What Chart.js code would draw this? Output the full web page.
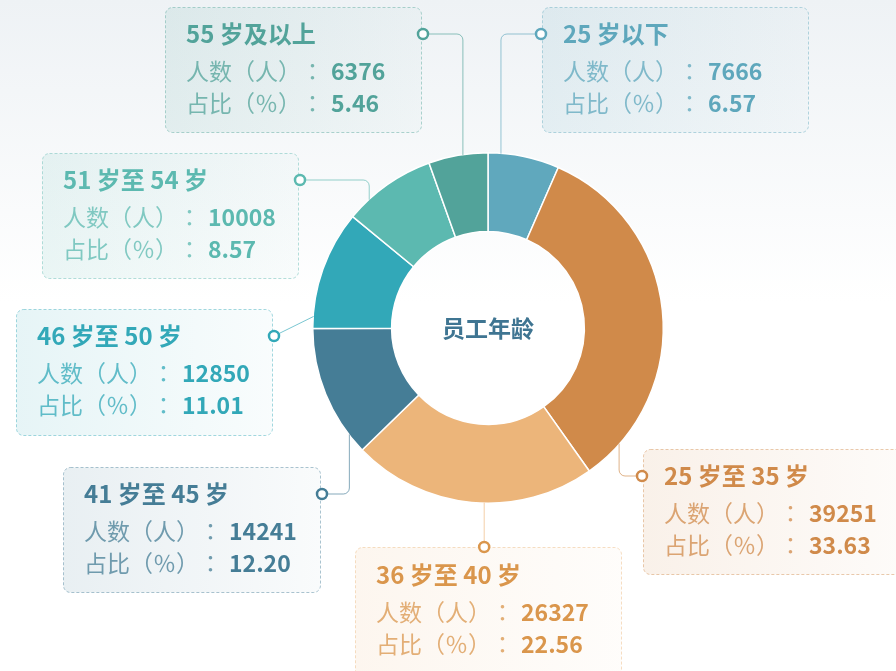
<!DOCTYPE html>
<html>
<head>
<meta charset="utf-8">
<script src="https://cdn.jsdelivr.net/npm/chart.js@4.4.1/dist/chart.umd.min.js"></script>
<style>
    html, body { margin: 0; padding: 0; background: #fff; }
    canvas { display: block; }
</style>
</head>
<body>
<canvas id="chart-umur" width="896" height="671"></canvas>
<script>
const ageGroups = ['25 岁以下', '25 岁至 35 岁', '36 岁至 40 岁', '41 岁至 45 岁', '46 岁至 50 岁', '51 岁至 54 岁', '55 岁及以上'];
const headcount = [7666, 39251, 26327, 14241, 12850, 10008, 6376];
const shares = ['6.57', '33.63', '22.56', '12.20', '11.01', '8.57', '5.46'];
const centerTitle = '员工年龄';
const countLabel = '人数（人）：';
const shareLabel = '占比（％）：';

const sliceColors = ['#60a8bd', '#d08a4a', '#ecb57a', '#457d96', '#32a8b8', '#5cb9b0', '#52a39a'];
const textColors  = ['#5ea7bc', '#d08a4a', '#da964c', '#457d96', '#32a8b8', '#5cb9b0', '#52a39a'];

// kotak label: posisi kotak, sisi titik, dan posisi ujung garis pada busur (t)
const labelBoxes = [
    { x: 542, y: 7,   w: 266, h: 125, side: 'left',  t: 0.18, line: 'elbow' },
    { x: 643, y: 449, w: 262, h: 125, side: 'left',  t: 0.89, line: 'elbow' },
    { x: 355, y: 547, w: 266, h: 130, side: 'top',   t: 0.45, line: 'down' },
    { x: 63,  y: 467, w: 257, h: 125, side: 'right', t: 0.15, line: 'elbow' },
    { x: 16,  y: 309, w: 256, h: 126, side: 'right', t: 0.10, line: 'straight' },
    { x: 42,  y: 153, w: 256, h: 125, side: 'right', t: 0.25, line: 'elbow' },
    { x: 165, y: 7,   w: 256, h: 125, side: 'right', t: 0.58, line: 'elbow' }
];

const FONT = '"Noto Sans CJK SC", "Noto Sans", sans-serif';
const LABEL_SIZE = 23;

function alpha(hex, a) {
    const n = parseInt(hex.slice(1), 16);
    return `rgba(${(n >> 16) & 255}, ${(n >> 8) & 255}, ${n & 255}, ${a})`;
}

function roundRect(ctx, x, y, w, h, r) {
    ctx.beginPath();
    ctx.moveTo(x + r, y);
    ctx.arcTo(x + w, y, x + w, y + h, r);
    ctx.arcTo(x + w, y + h, x, y + h, r);
    ctx.arcTo(x, y + h, x, y, r);
    ctx.arcTo(x, y, x + w, y, r);
    ctx.closePath();
}

const backgroundPlugin = {
    id: 'latar',
    beforeDraw(chart) {
        const ctx = chart.ctx;
        const g = ctx.createLinearGradient(0, 0, 0, chart.height);
        g.addColorStop(0, '#eef2f5');
        g.addColorStop(0.45, '#ffffff');
        g.addColorStop(1, '#ffffff');
        ctx.save();
        ctx.fillStyle = g;
        ctx.fillRect(0, 0, chart.width, chart.height);
        ctx.restore();
    }
};

const labelPlugin = {
    id: 'labelKotak',
    afterDraw(chart) {
        const ctx = chart.ctx;
        const arcs = chart.getDatasetMeta(0).data;

        // teks tengah
        const c = arcs[0];
        ctx.save();
        ctx.fillStyle = '#3f7592';
        ctx.font = 'bold 23px ' + FONT;
        ctx.textAlign = 'center';
        ctx.textBaseline = 'middle';
        ctx.fillText(centerTitle, c.x, c.y);
        ctx.restore();

        labelBoxes.forEach((box, i) => {
            const arc = arcs[i];
            const color = textColors[i];
            const a = arc.startAngle + box.t * (arc.endAngle - arc.startAngle);
            const r = arc.outerRadius - 0.5;
            const ax = arc.x + r * Math.cos(a);
            const ay = arc.y + r * Math.sin(a);

            let dx, dy;
            if (box.side === 'left') { dx = box.x - 1; dy = box.y + 27; }
            else if (box.side === 'right') { dx = box.x + box.w + 2; dy = box.y + 27; }
            else { dx = ax; dy = box.y; }

            ctx.save();
            // kotak
            const g = ctx.createLinearGradient(box.x, 0, box.x + box.w, 0);
            g.addColorStop(0, alpha(sliceColors[i], 0.12));
            g.addColorStop(1, alpha(sliceColors[i], 0.03));
            roundRect(ctx, box.x + 0.5, box.y + 0.5, box.w, box.h, 7);
            ctx.fillStyle = g;
            ctx.fill();
            ctx.setLineDash([3, 2]);
            ctx.lineWidth = 1;
            ctx.strokeStyle = alpha(sliceColors[i], 0.45);
            ctx.stroke();
            ctx.setLineDash([]);

            // garis penghubung
            ctx.beginPath();
            ctx.strokeStyle = alpha(sliceColors[i], 0.65);
            ctx.lineWidth = 1;
            ctx.moveTo(ax, ay);
            if (box.line === 'elbow') {
                ctx.arcTo(ax, dy, dx, dy, 6);
                ctx.lineTo(dx, dy);
            } else {
                ctx.lineTo(dx, dy);
            }
            ctx.stroke();

            // titik
            ctx.beginPath();
            ctx.arc(dx, dy, 5, 0, Math.PI * 2);
            ctx.fillStyle = '#fff';
            ctx.fill();
            ctx.lineWidth = 2.5;
            ctx.strokeStyle = color;
            ctx.stroke();

            // teks
            const tx = box.x + 21;
            const ty = box.y + (box.side === 'top' ? 1 : 0);
            ctx.textBaseline = 'middle';
            ctx.textAlign = 'left';
            ctx.fillStyle = color;
            ctx.font = 'bold 24px ' + FONT;
            ctx.fillText(ageGroups[i], tx, ty + 27);

            const rows = [[countLabel, String(headcount[i]), 64], [shareLabel, shares[i], 96]];
            rows.forEach(([label, value, off]) => {
                const head = label.slice(0, -1);
                const colon = label.slice(-1);
                ctx.font = LABEL_SIZE + 'px ' + FONT;
                ctx.fillStyle = alpha(color, 0.75);
                ctx.fillText(head, tx, ty + off);
                const w = ctx.measureText(head).width;
                // titik dua di tengah sel (gaya JP)
                ctx.font = LABEL_SIZE + 'px "Noto Sans CJK JP", sans-serif';
                ctx.fillText(colon, tx + w, ty + off);
                ctx.font = 'bold 23px ' + FONT;
                ctx.fillStyle = color;
                ctx.fillText(value, tx + w + LABEL_SIZE + 7, ty + off);
            });
            ctx.restore();
        });
    }
};

const ctx = document.getElementById('chart-umur').getContext('2d');
new Chart(ctx, {
    type: 'doughnut',
    data: {
        labels: ageGroups,
        datasets: [{
            data: headcount,
            backgroundColor: sliceColors,
            borderColor: '#ffffff',
            borderWidth: 1.5
        }]
    },
    options: {
        responsive: false,
        animation: false,
        cutout: '55%',
        layout: {
            padding: { left: 312, right: 232, top: 152, bottom: 167 }
        },
        plugins: {
            legend: { display: false },
            tooltip: { enabled: false }
        }
    },
    plugins: [backgroundPlugin, labelPlugin]
});
</script>
</body>
</html>
